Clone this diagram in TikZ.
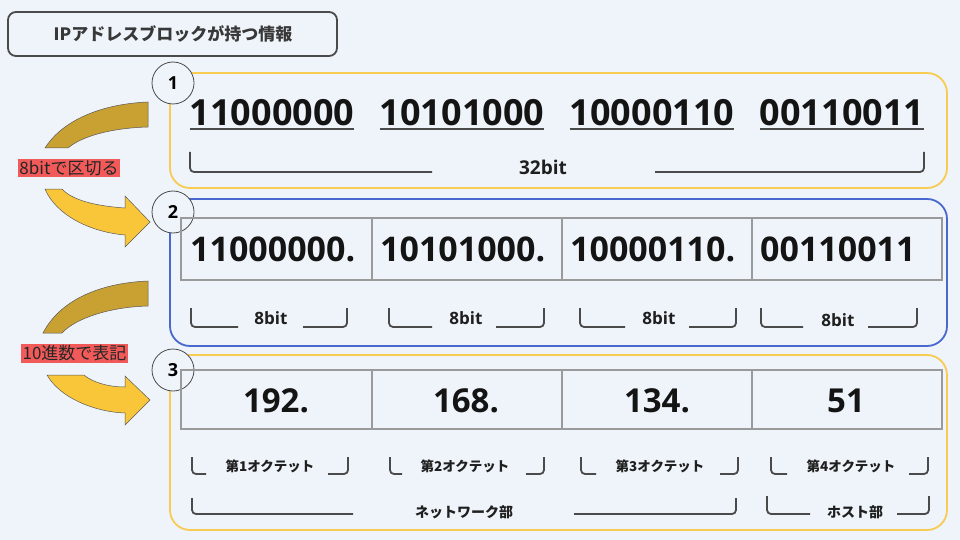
\documentclass[tikz,border=0pt]{standalone}
\usepackage{fontspec}
\setmainfont{Open Sans}
\newfontfamily\jp{Noto Sans CJK JP}
\definecolor{bgc}{HTML}{EEF4FA}
\definecolor{ylw}{HTML}{F8CB52}
\definecolor{blu}{HTML}{4868CF}
\definecolor{gry}{HTML}{9A9A9A}
\definecolor{dk}{HTML}{4A4A4A}
\definecolor{gold}{HTML}{C9A032}
\definecolor{gold2}{HTML}{F9C63A}
\definecolor{lab}{HTML}{F25A5A}
\newcommand\mybrk[6]{%
  \draw[brk] (#1,#5) -- (#1,#6) -- (#2,#6);
  \draw[brk] (#3,#6) -- (#4,#6) -- (#4,#5);}
\begin{document}
\begin{tikzpicture}[x=1pt,y=-1pt,
  panel/.style={line width=1.8pt, rounded corners=20pt},
  brk/.style={draw=dk, line width=1.8pt, rounded corners=4pt},
  cell/.style={draw=gry, line width=1.3pt},
  stepnum/.style={circle, draw=dk, line width=0.8pt, fill=bgc, minimum size=42pt, inner sep=0pt, font=\fontsize{18}{20}\selectfont\bfseries},
  bignum/.style={inner sep=0pt, anchor=base, font=\fontsize{36}{40}\selectfont\bfseries, text=black!92},
  tabnum/.style={inner sep=0pt, anchor=base west, font=\fontsize{34}{38}\selectfont\bfseries, text=black!92},
  decnum/.style={inner sep=0pt, anchor=base, font=\fontsize{33}{36}\selectfont\bfseries, text=black!92},
  bitlab/.style={inner sep=0pt, font=\fontsize{17}{20}\selectfont\bfseries, text=black!88},
  jplab/.style={inner sep=0pt, font=\jp\fontsize{13.5}{16}\selectfont\bfseries, text=black!88},
  redlab/.style={fill=lab, inner sep=1.5pt, font=\jp\fontsize{17}{20}\selectfont, text=black!85},
  arrowtop/.style={fill=gold, draw=black!65, line width=0.5pt},
  arrowbot/.style={fill=gold2, draw=black!65, line width=0.5pt}]
\useasboundingbox (0,0) rectangle (960,540);
\fill[bgc] (0,0) rectangle (960,540);

% title
\draw[dk, line width=1.8pt, rounded corners=8pt] (8,12) rectangle (337,56);
\node[inner sep=0pt, font=\jp\fontsize{17}{20}\selectfont\bfseries, text=black!78] (title) at (173,34) {IPアドレスブロックが持つ情報};

% panels
\draw[panel, ylw] (170,73) rectangle (947,188);
\draw[panel, blu] (170,199) rectangle (947,346);
\draw[panel, ylw] (170,355) rectangle (947,530);

% arrows
\draw[arrowtop] (148,102) -- (148,127) .. controls (112,128) and (82,136) .. (68,148) -- (45,148) .. controls (62,121) and (100,104) .. (148,102) -- cycle;
\draw[arrowbot] (45,189) .. controls (56,215) and (90,232) .. (125,235) -- (125,247) -- (150,222) -- (125,196) -- (125,208) .. controls (95,206) and (72,200) .. (62,189) -- cycle;
\node[redlab] (lab1) at (69,168) {8bitで区切る};

\draw[arrowtop] (148,281) -- (148,306) .. controls (110,307) and (76,318) .. (62,333) -- (43,333) .. controls (60,300) and (100,283) .. (148,281) -- cycle;
\draw[arrowbot] (47,375) .. controls (60,398) and (95,412) .. (125,413) -- (125,425) -- (150,400) -- (125,376) -- (125,387) .. controls (108,387) and (92,382) .. (84,375) -- cycle;
\node[redlab] (lab2) at (74.5,353.5) {10進数で表記};

% step circles
\node[stepnum] (s1) at (173,83) {1};
\node[stepnum] (s2) at (173,212) {2};
\node[stepnum] (s3) at (173,370) {3};

% panel 1
\foreach \x/\t/\n in {272/11000000/a, 462/10101000/b, 652/10000110/c, 842/00110011/d}{
  \node[bignum] (b\n) at (\x,126) {\t};
  \draw[line width=2pt, dk] ([yshift=-3pt]b\n.base west) -- ([yshift=-3pt]b\n.base east);
}
\mybrk{190}{432}{655}{924}{152}{172}
\node[bitlab, font=\fontsize{19}{22}\selectfont\bfseries] (l32) at (543,167) {32bit};

% panel 2
\draw[cell] (181,218) rectangle (942,280);
\draw[cell] (372,218) -- (372,280) (562,218) -- (562,280) (752,218) -- (752,280);
\node[tabnum] (t1) at (190,261) {11000000.};
\node[tabnum] (t2) at (380,261) {10101000.};
\node[tabnum] (t3) at (570,261) {10000110.};
\node[tabnum] (t4) at (760,261) {00110011};
\mybrk{191}{238}{303}{347}{308}{327}
\mybrk{389}{432}{496}{544}{308}{327}
\mybrk{580}{625}{689}{736}{308}{327}
\mybrk{761}{803}{868}{917}{308}{327}
\node[bitlab] (e1) at (271,318) {8bit};
\node[bitlab] (e2) at (466,318) {8bit};
\node[bitlab] (e3) at (659,318) {8bit};
\node[bitlab] (e4) at (838,320) {8bit};

% panel 3
\draw[cell] (181,370) rectangle (942,429);
\draw[cell] (372,370) -- (372,429) (562,370) -- (562,429) (752,370) -- (752,429);
\node[decnum] (d1) at (276,412) {192.};
\node[decnum] (d2) at (466,412) {168.};
\node[decnum] (d3) at (657,412) {134.};
\node[decnum] (d4) at (846,412) {51};
\mybrk{192}{206}{328}{348}{457}{474}
\mybrk{390}{402}{526}{544}{457}{474}
\mybrk{581}{596}{720}{738}{457}{474}
\mybrk{771}{787}{909}{928}{457}{474}
\node[jplab] (o1) at (270,466) {第1オクテット};
\node[jplab] (o2) at (465,466) {第2オクテット};
\node[jplab] (o3) at (660,466) {第3オクテット};
\node[jplab] (o4) at (851,466) {第4オクテット};
\mybrk{192}{353}{574}{736}{498}{514}
\mybrk{767}{810}{897}{929}{496}{514}
\node[jplab, font=\jp\fontsize{14}{16}\selectfont\bfseries] (net) at (464,512) {ネットワーク部};
\node[jplab, font=\jp\fontsize{14}{16}\selectfont\bfseries] (host) at (855,512) {ホスト部};
\end{tikzpicture}
\end{document}
